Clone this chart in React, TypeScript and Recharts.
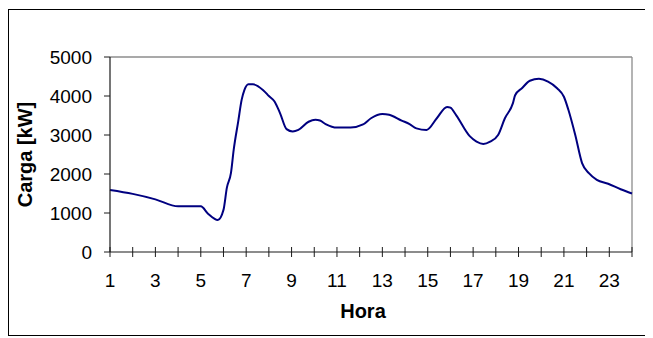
import { CartesianGrid, Label, Line, LineChart, ReferenceLine, XAxis, YAxis } from "recharts";

// Load profile over the day (hour, kW)
const hora = [
  1, 2, 3, 4, 5, 5.33, 5.75, 6.0, 6.15, 6.33, 6.45, 6.65, 6.8, 6.92, 7.1, 7.3,
  7.75, 8.0, 8.25, 8.5, 8.78, 9.05, 9.3, 9.75, 10.05, 10.25, 10.5, 11.0, 11.6,
  12.15, 12.5, 13.0, 13.3, 13.85, 14.2, 14.5, 14.95, 15.4, 15.85, 16.0, 16.25,
  16.85, 17.15, 17.45, 17.75, 18.1, 18.4, 18.75, 18.85, 19.15, 19.5, 19.9,
  20.3, 20.7, 21.0, 21.2, 21.5, 21.8, 22.1, 22.45, 22.95, 23.5, 24,
];
const carga = [
  1590, 1490, 1350, 1170, 1170, 975, 820, 1080, 1650, 2030, 2620, 3350, 3900,
  4150, 4300, 4300, 4150, 4000, 3860, 3550, 3150, 3090, 3130, 3340, 3390, 3370,
  3280, 3190, 3190, 3270, 3430, 3540, 3520, 3370, 3280, 3170, 3130, 3430, 3720,
  3700, 3510, 2970, 2830, 2770, 2830, 3000, 3430, 3810, 4020, 4200, 4390, 4440,
  4370, 4200, 3980, 3640, 3000, 2280, 2020, 1850, 1750, 1610, 1500,
];

const xTicks = Array.from({ length: 24 }, (_, i) => i + 1);
const yTicks = [0, 1000, 2000, 3000, 4000, 5000];

const data = hora.map((h, i) => ({ hora: h, carga: carga[i] }));

const FONT = '"Liberation Sans", Arial, sans-serif';
const AXIS = "#1a1a1a";

// hour ticks cross the axis; only odd hours get a label
function HourTick(props: any) {
  const { x, y, payload } = props;
  const v = payload.value as number;
  return (
    <g>
      <line x1={x} y1={y - 10} x2={x} y2={y} stroke={AXIS} strokeWidth={1} />
      {v % 2 === 1 && (
        <text x={x} y={y + 30} textAnchor="middle" fontSize={19} fill="#000" fontFamily={FONT}>
          {v}
        </text>
      )}
    </g>
  );
}

export default function App() {
  return (
    <div
      style={{
        width: 642,
        height: 325,
        marginTop: 1,
        border: "1px solid #000",
        background: "#fff",
      }}
    >
      <LineChart
        width={642}
        height={325}
        data={data}
        margin={{ top: 47, right: 19, left: 0, bottom: 0 }}
      >
        <CartesianGrid horizontal={false} vertical={false} />
        <XAxis
          dataKey="hora"
          type="number"
          domain={[1, 24]}
          ticks={xTicks}
          interval={0}
          height={83}
          tickSize={5}
          tickMargin={0}
          tickLine={false}
          tick={<HourTick />}
          axisLine={{ stroke: AXIS, strokeWidth: 1.2 }}
        >
          <Label
            content={({ viewBox }: any) => (
              <text
                x={viewBox.x + 253}
                y={viewBox.y + 66}
                textAnchor="middle"
                fontSize={20}
                fontWeight="bold"
                fontFamily={FONT}
                fill="#000"
              >
                Hora
              </text>
            )}
          />
        </XAxis>
        <YAxis
          type="number"
          domain={[0, 5000]}
          ticks={yTicks}
          width={101}
          tickSize={6}
          tickMargin={12}
          tick={{ fontSize: 19, fill: "#000", fontFamily: FONT }}
          tickLine={{ stroke: AXIS }}
          axisLine={{ stroke: AXIS, strokeWidth: 1.2 }}
        >
          <Label
            content={({ viewBox }: any) => {
              const cx = viewBox.x + 23;
              const cy = viewBox.y + viewBox.height / 2;
              return (
                <text
                  x={cx}
                  y={cy}
                  transform={`rotate(-90, ${cx}, ${cy})`}
                  textAnchor="middle"
                  fontSize={20}
                  fontWeight="bold"
                  fontFamily={FONT}
                  fill="#000"
                >
                  Carga [kW]
                </text>
              );
            }}
          />
        </YAxis>
        <ReferenceLine y={5000} stroke="#8c8c8c" strokeWidth={1.3} />
        <ReferenceLine x={24} stroke="#8c8c8c" strokeWidth={1.3} />
        <Line
          type="monotone"
          dataKey="carga"
          stroke="#000080"
          strokeWidth={2}
          dot={false}
          isAnimationActive={false}
        />
      </LineChart>
    </div>
  );
}
